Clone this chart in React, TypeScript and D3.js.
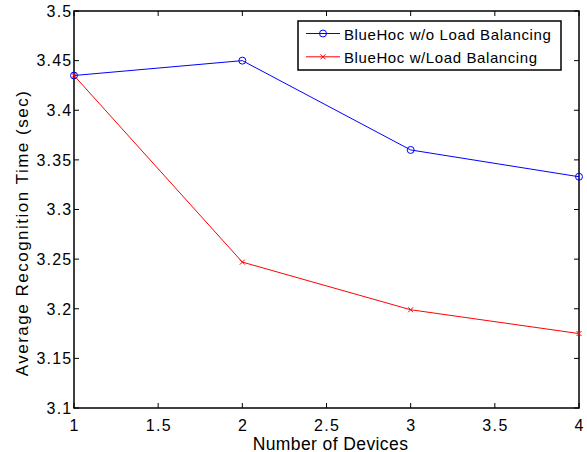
import * as d3 from "d3";
import { useEffect, useRef } from "react";

const devices = [1, 2, 3, 4];
const withoutLB = [3.435, 3.45, 3.36, 3.333];
const withLB = [3.435, 3.247, 3.199, 3.175];
const xTicks = [1, 1.5, 2, 2.5, 3, 3.5, 4];
const yTicks = [3.1, 3.15, 3.2, 3.25, 3.3, 3.35, 3.4, 3.45, 3.5];
const seriesNames = ["BlueHoc w/o Load Balancing", "BlueHoc w/Load Balancing"];

const W = 587;
const H = 452;

const App = () => {
  const ref = useRef<SVGSVGElement>(null);

  useEffect(() => {
    const margin = { top: 11, right: 8, bottom: 44, left: 74 };
    const width = W - margin.left - margin.right;
    const height = H - margin.top - margin.bottom;
    const font = "'Liberation Sans', Arial, Helvetica, sans-serif";

    const root = d3.select(ref.current);
    root.selectAll("*").remove();
    const svg = root.append("g").attr("transform", `translate(${margin.left},${margin.top})`);

    const x = d3.scaleLinear().domain([1, 4]).range([0, width]);
    const y = d3.scaleLinear().domain([3.1, 3.5]).range([height, 0]);

    // box
    svg.append("rect")
      .attr("width", width).attr("height", height)
      .attr("fill", "white").attr("stroke", "black").attr("stroke-width", 1.5);

    // ticks inside on all four sides
    const tl = 5;
    xTicks.forEach((t) => {
      svg.append("line").attr("x1", x(t)).attr("x2", x(t)).attr("y1", height).attr("y2", height - tl).attr("stroke", "black");
      svg.append("line").attr("x1", x(t)).attr("x2", x(t)).attr("y1", 0).attr("y2", tl).attr("stroke", "black");
      svg.append("text").attr("x", x(t) + 0.7).attr("y", height + 23)
        .attr("text-anchor", "middle").style("font-family", font).style("font-size", "16px")
        .style("letter-spacing", "1.4px").text(String(t));
    });
    yTicks.forEach((t) => {
      svg.append("line").attr("x1", 0).attr("x2", tl).attr("y1", y(t)).attr("y2", y(t)).attr("stroke", "black");
      svg.append("line").attr("x1", width).attr("x2", width - tl).attr("y1", y(t)).attr("y2", y(t)).attr("stroke", "black");
      svg.append("text").attr("x", -1.6).attr("y", y(t)).attr("dy", "0.36em")
        .attr("text-anchor", "end").style("font-family", font).style("font-size", "16px")
        .style("letter-spacing", "1.2px").text(String(t));
    });

    // axis labels
    svg.append("text").attr("x", width / 2 + 4).attr("y", height + 41.5)
      .attr("text-anchor", "middle").style("font-family", font).style("font-size", "17.5px")
      .style("letter-spacing", "0.4px").text("Number of Devices");
    svg.append("text").attr("transform", `translate(${-46},${222}) rotate(-90)`)
      .attr("text-anchor", "middle").style("font-family", font).style("font-size", "17px")
      .style("letter-spacing", "1.5px").text("Average Recognition Time (sec)");

    const line = d3.line<number>().x((_, i) => x(devices[i])).y((d) => y(d));

    // blue series with circles
    svg.append("path").datum(withoutLB).attr("d", line).attr("fill", "none").attr("stroke", "#0000ff").attr("stroke-width", 1);
    svg.selectAll(".circ").data(withoutLB).join("circle")
      .attr("cx", (_, i) => x(devices[i])).attr("cy", (d) => y(d)).attr("r", 3.5)
      .attr("fill", "none").attr("stroke", "#0000ff");

    // red series with x markers
    svg.append("path").datum(withLB).attr("d", line).attr("fill", "none").attr("stroke", "#ff0000").attr("stroke-width", 1);
    const xm = d3.symbol(d3.symbolX, 18);
    svg.selectAll(".xm").data(withLB).join("path")
      .attr("transform", (d, i) => `translate(${x(devices[i])},${y(d)})`)
      .attr("d", xm).attr("fill", "none").attr("stroke", "#ff0000");

    // legend
    const lg = svg.append("g").attr("transform", `translate(${298 - margin.left},${21 - margin.top})`);
    lg.append("rect").attr("width", 263).attr("height", 49).attr("fill", "white").attr("stroke", "black").attr("stroke-width", 1.5);
    const colors = ["#0000ff", "#ff0000"];
    seriesNames.forEach((name, i) => {
      const cy = 12.5 + i * 23.3;
      lg.append("line").attr("x1", 8).attr("x2", 42).attr("y1", cy).attr("y2", cy).attr("stroke", colors[i]);
      if (i === 0) {
        lg.append("circle").attr("cx", 25).attr("cy", cy).attr("r", 3.5).attr("fill", "none").attr("stroke", colors[i]);
      } else {
        lg.append("path").attr("transform", `translate(25,${cy})`).attr("d", xm).attr("fill", "none").attr("stroke", colors[i]);
      }
      lg.append("text").attr("x", 46).attr("y", cy + 6).style("font-family", font).style("font-size", "15px")
        .style("letter-spacing", "0.6px").text(name);
    });
  }, []);

  return <svg ref={ref} width={W} height={H} style={{ position: "absolute", left: 0, top: 0 }} />;
};

export default App;
